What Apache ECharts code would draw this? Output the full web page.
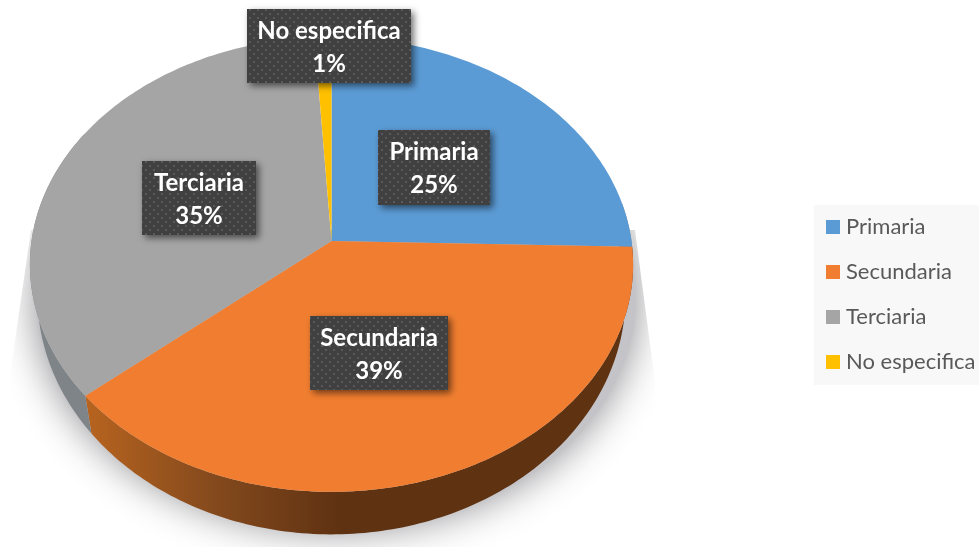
<!DOCTYPE html>
<html>
<head>
<meta charset="utf-8">
<style>html,body{margin:0;padding:0;background:#fff}#main{width:979px;height:547px}</style>
<script src="https://cdn.jsdelivr.net/npm/echarts@6/dist/echarts.min.js"></script>
</head>
<body>
<div id="main"></div>
<script>
var categories = ['Primaria', 'Secundaria', 'Terciaria', 'No especifica'];
var values = [25.4, 38.5, 35.1, 1.0];
var colors = ['#5b9bd5', '#f17e30', '#a5a5a5', '#ffc000'];

// label box per slice: left, top, width, height
var labelBoxes = [[378, 130, 112, 75], [310, 316, 138, 74], [142, 161, 114, 74], [247, 9, 164, 74]];

var total = values.reduce(function (a, b) { return a + b; }, 0);
var cx = 331.5, cy = 241, radiusX = 300, radiusY = 225, persp = 0.103;

// tilted disc, angle clockwise from the top
function project(deg, low) {
    var t = deg * Math.PI / 180, u = Math.sin(t), v = Math.cos(t), w = 1 + persp * v;
    var x = radiusX * u / w, y = -radiusY * v / w;
    if (low) {
        x *= 0.975;
        y = y * 1.05 + 30;
    }
    return [cx + x, cy + y];
}
function arc(a0, a1, low) {
    var pts = [], n = Math.max(1, Math.ceil(Math.abs(a1 - a0)));
    for (var i = 0; i <= n; i++) {
        pts.push(project(a0 + (a1 - a0) * i / n, low));
    }
    return pts;
}

// dotted texture of the labels
var tile = document.createElement('canvas');
tile.width = 8; tile.height = 8;
var tc = tile.getContext('2d');
tc.fillStyle = '#404040'; tc.fillRect(0, 0, 8, 8);
tc.fillStyle = '#595959'; tc.fillRect(1, 1, 2, 2); tc.fillRect(5, 5, 2, 2);

function wallFill(index) {
    if (index === 1) {
        return {type: 'linear', global: true, x: 84, y: 0, x2: 340, y2: 0, colorStops: [
            {offset: 0, color: '#b8641f'}, {offset: 0.5, color: '#854a1d'}, {offset: 1, color: '#5f3212'}]};
    }
    return '#7f8488';
}

function renderSlice(params, api) {
    var index = params.seriesIndex - 1;
    var before = 0;
    for (var i = 0; i < index; i++) before += values[i];
    var a0 = before / total * 360;
    var a1 = a0 + api.value(0) / total * 360;
    var children = [];

    // side wall, only the part facing the viewer
    var w0 = Math.max(a0, 80), w1 = Math.min(a1, 300);
    if (w1 > w0) {
        children.push({
            type: 'polygon', z2: 1,
            shape: {points: arc(w0, w1, false).concat(arc(w1, w0, true))},
            style: {fill: wallFill(index)}
        });
    }
    children.push({
        type: 'polygon', z2: 2,
        shape: {points: [[cx, cy]].concat(arc(a0, a1, false))},
        style: {fill: colors[index]}
    });

    var box = labelBoxes[index];
    children.push({
        type: 'rect', z2: 5,
        shape: {x: box[0], y: box[1], width: box[2], height: box[3]},
        style: {
            fill: {image: tile, repeat: 'repeat'},
            shadowBlur: 7, shadowOffsetX: 3, shadowOffsetY: 3, shadowColor: 'rgba(0,0,0,0.55)'
        }
    });
    children.push({
        type: 'text', z2: 6,
        style: {
            x: box[0] + box[2] / 2, y: box[1] + box[3] / 2 + 1.5,
            text: categories[index] + '\n' + Math.round(api.value(0)) + '%',
            fill: '#ffffff', align: 'center', verticalAlign: 'middle',
            font: 'bold 24px Lato', lineHeight: 33
        }
    });
    return {type: 'group', children: children};
}

function renderShadow() {
    var pts = [];
    for (var d = 0; d < 360; d += 2) {
        var t = d * Math.PI / 180;
        pts.push([336 + 300 * Math.sin(t), 298 - 232 * Math.cos(t)]);
    }
    return {
        type: 'polygon', z2: 0,
        shape: {points: pts},
        style: {fill: '#c4c4c8', shadowBlur: 40, shadowColor: '#8a8a8e'},
        clipPath: {
            type: 'polygon',
            shape: {points: [[31, 230], [9, 382], [9, 547], [655, 547], [655, 382], [635, 230]]}
        }
    };
}

var series = [{
    type: 'custom', name: 'sombra', coordinateSystem: 'none', silent: true,
    data: [[0]], renderItem: renderShadow
}];
categories.forEach(function (name, i) {
    series.push({
        type: 'custom', name: name, coordinateSystem: 'none', silent: true,
        itemStyle: {color: colors[i]},
        data: [[values[i]]], renderItem: renderSlice
    });
});

var myChart = echarts.init(document.getElementById('main'));
myChart.setOption({
    animation: false,
    backgroundColor: '#ffffff',
    graphic: [{type: 'rect', z: -1, shape: {x: 814, y: 205, width: 165, height: 180}, style: {fill: '#f8f8f8'}}],
    legend: {
        orient: 'vertical', left: 826, top: 212, padding: 0,
        data: categories, icon: 'rect', itemWidth: 14, itemHeight: 14, itemGap: 15, selectedMode: false,
        textStyle: {color: '#595959', fontFamily: 'Lato', fontSize: 22, lineHeight: 28, padding: [2, 0, 0, 1]}
    },
    series: series
});
</script>
</body>
</html>
